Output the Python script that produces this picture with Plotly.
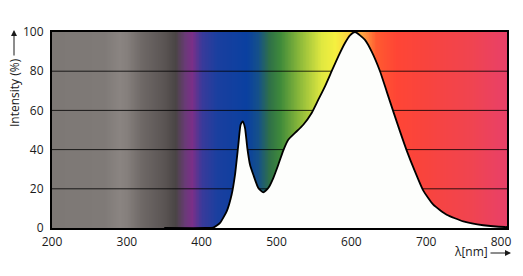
import numpy as np
import plotly.graph_objects as go

# ---- data ----
wavelength = [350, 405, 415.6, 424.5, 433.4, 440, 444.5, 449, 452, 454.8, 457.9, 461,
              464.6, 469, 475.7, 482.4, 489, 495.7, 502.4, 509, 515.7, 524.7, 535.8,
              547, 555.9, 564.8, 573.7, 582.6, 591.5, 598.2, 605, 618.2, 627.2, 638.3,
              647.2, 656, 665, 674, 685, 696, 709.5, 727.4, 749.6, 776.3, 805, 808]
intensity = [0, 0, 0.2, 2.6, 8.5, 17, 27, 42.5, 52.7, 54.4, 51, 40.8,
             32.3, 27.2, 20.4, 18.2, 20.4, 25.5, 32.3, 39.5, 45, 48.5, 52.7,
             58.7, 65.5, 72.3, 80, 87.6, 94.4, 98.3, 100, 96, 90, 80,
             69.7, 59.5, 49.3, 39.5, 28.9, 19.2, 11.9, 6.8, 3.4, 1.4, 0.5, 0.5]

# background spectrum colours (wavelength -> colour)
band_nm = [200, 270, 290, 300, 320, 350, 365, 378, 387, 400, 420, 460, 475, 490,
           505, 530, 560, 578, 600, 617, 633, 660, 700, 760, 810]
band_color = ["#7d7875", "#7f7a77", "#8a8481", "#857f7c", "#6e6866", "#5a5453",
              "#4a4545", "#6a3a78", "#7b2f88", "#3a3a9a", "#1a3f9f", "#0a40a0",
              "#15508a", "#2f7048", "#3f8a3a", "#8ab83a", "#e0e840", "#f5f040",
              "#ffcc40", "#ff9a40", "#ff5a30", "#ff4535", "#f8443e", "#f04450",
              "#e8406a"]

x_ticks = [200, 300, 400, 500, 600, 700, 800]
y_ticks = [0, 20, 40, 60, 80, 100]
grid_levels = [20, 40, 60, 80]

X_MIN, X_MAX = 200, 808
Z_MIN, Z_MAX = band_nm[0], band_nm[-1]

FONT = "Open Sans"
TXT = "#1a1a1a"

fig = go.Figure()

# spectrum background
xs = np.arange(Z_MIN, Z_MAX + 1, 1)
colorscale = [[(n - Z_MIN) / (Z_MAX - Z_MIN), c] for n, c in zip(band_nm, band_color)]
fig.add_trace(go.Heatmap(x=xs, y=[-10, 110], z=[xs, xs], zmin=Z_MIN, zmax=Z_MAX,
                         colorscale=colorscale, zsmooth="best", showscale=False,
                         hoverinfo="skip"))

# grid lines (drawn above background, below the white curve area)
for g in grid_levels:
    fig.add_trace(go.Scatter(x=[X_MIN, X_MAX], y=[g, g], mode="lines",
                             line=dict(color="rgba(0,0,0,0.8)", width=1),
                             hoverinfo="skip", showlegend=False))

# spectrum curve
fig.add_trace(go.Scatter(x=wavelength, y=intensity, mode="lines",
                         line=dict(color="black", width=1.8, shape="spline", smoothing=0.5),
                         fill="tozeroy", fillcolor="#fdfefc",
                         hoverinfo="skip", showlegend=False))

L, R, T, B = 52, 16, 32, 48
W, H = 523, 276
pw, ph = W - L - R, H - T - B

def px_x(p):
    return (p - L) / pw

def px_y(p):
    return (H - B - p) / ph

fig.update_layout(
    width=W, height=H,
    margin=dict(l=L, r=R, t=T, b=B),
    paper_bgcolor="white", plot_bgcolor="white",
    showlegend=False,
    font=dict(family=FONT, size=12, color=TXT),
    xaxis=dict(range=[X_MIN, X_MAX], tickvals=x_ticks, ticktext=[str(v) for v in x_ticks],
               showgrid=False, zeroline=False, showline=True, linecolor="black",
               linewidth=2, mirror=True, ticks="", ticklabelstandoff=2,
               tickfont=dict(family=FONT, size=12, color=TXT)),
    yaxis=dict(range=[0, 100], tickvals=y_ticks, ticktext=[str(v) for v in y_ticks],
               showgrid=False, zeroline=False, showline=True, linecolor="black",
               linewidth=2, mirror=True, ticks="", ticklabelstandoff=4,
               tickfont=dict(family=FONT, size=12, color=TXT)),
    annotations=[
        dict(text="Intensity (%)", xref="paper", yref="paper", x=px_x(14), y=px_y(93),
             textangle=-90, showarrow=False, font=dict(family=FONT, size=12, color=TXT),
             xanchor="center", yanchor="middle"),
        dict(text="", xref="paper", yref="paper", x=px_x(14), y=px_y(30),
             showarrow=True, ax=0, ay=27, arrowhead=2, arrowsize=1.2, arrowwidth=1,
             arrowcolor=TXT),
        dict(text="λ[nm]", xref="paper", yref="paper", x=px_x(471), y=px_y(252),
             showarrow=False, font=dict(family=FONT, size=12, color=TXT),
             xanchor="center", yanchor="middle"),
        dict(text="", xref="paper", yref="paper", x=px_x(511), y=px_y(253),
             showarrow=True, ax=-22, ay=0, arrowhead=2, arrowsize=1.2, arrowwidth=1,
             arrowcolor=TXT),
    ],
)

fig.write_html("out.html")
